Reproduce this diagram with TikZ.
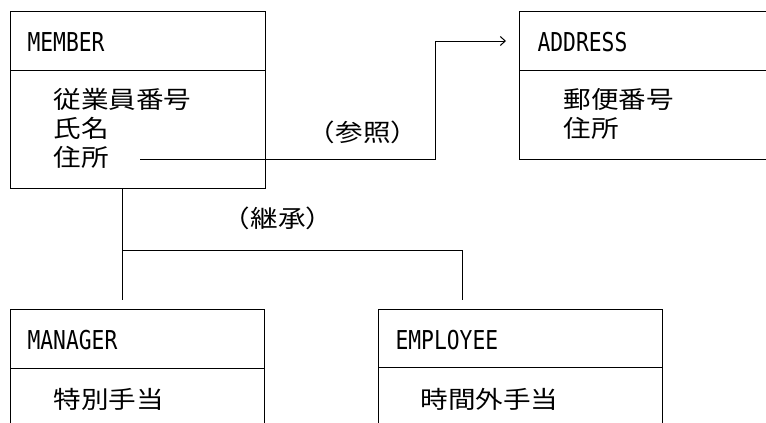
\documentclass[tikz,border=0pt]{standalone}
\usepackage{fontspec}
\newfontfamily\jpfont[FakeStretch=1.15]{Noto Sans CJK JP}
\newfontfamily\latfont[FakeStretch=0.82]{DejaVu Sans Mono}
\usetikzlibrary{arrows.meta}
\begin{document}
\begin{tikzpicture}[x=1pt,y=-1pt,line width=1pt,
  classbox/.style={draw,anchor=north west,inner sep=0pt},
  titletext/.style={anchor=west,inner sep=0pt,font=\latfont\fontsize{26}{26}\selectfont},
  attrtext/.style={anchor=west,inner sep=0pt,font=\jpfont\fontsize{24}{24}\selectfont},
  labeltext/.style={inner sep=0pt,font=\jpfont\fontsize{24}{24}\selectfont},
  refline/.style={-{Straight Barb[length=5pt,width=9pt]}},
  inhline/.style={}]
\useasboundingbox (0,0) rectangle (766,423);
% boxes
\node[classbox,minimum width=255pt,minimum height=177pt] (member) at (10,11) {};
\node[classbox,minimum width=270pt,minimum height=148pt] (address) at (519,11) {};
\node[classbox,minimum width=254pt,minimum height=140pt] (manager) at (10,309) {};
\node[classbox,minimum width=284pt,minimum height=140pt] (employee) at (378,309) {};
% dividers
\draw ([yshift=-59pt]member.north west) -- ([yshift=-59pt]member.north east);
\draw ([yshift=-59pt]address.north west) -- ([yshift=-59pt]address.north east);
\draw ([yshift=-59pt]manager.north west) -- ([yshift=-59pt]manager.north east);
\draw ([yshift=-58pt]employee.north west) -- ([yshift=-58pt]employee.north east);
% titles
\node[titletext] (membert) at (27,42) {MEMBER};
\node[titletext] (addresst) at (537,42) {ADDRESS};
\node[titletext] (managert) at (27,340) {MANAGER};
\node[titletext] (employeet) at (395,340) {EMPLOYEE};
% attributes
\node[attrtext] (m1) at (53,99) {従業員番号};
\node[attrtext] (m2) at (53,128) {氏名};
\node[attrtext] (m3) at (53,157) {住所};
\node[attrtext] (a1) at (563,99) {郵便番号};
\node[attrtext] (a2) at (563,128) {住所};
\node[attrtext] (g1) at (53,399) {特別手当};
\node[attrtext] (e1) at (420,399) {時間外手当};
% labels
\node[labeltext] (refl) at (363,132) {（参照）};
\node[labeltext] (inhl) at (278,218) {（継承）};
% reference connector
\coordinate (refstart) at (140,159);
\coordinate (refbend) at (435,41);
\coordinate (refend) at (506,41);
\draw[refline] (refstart) -| (refbend) -- (refend);
% inheritance connector
\coordinate (join) at (122,250);
\coordinate (mgrtop) at (122,300);
\coordinate (emptop) at (462,300);
\draw[inhline] ([xshift=112pt]member.south west) -- (mgrtop);
\draw[inhline] (join) -| (emptop);
\end{tikzpicture}
\end{document}
